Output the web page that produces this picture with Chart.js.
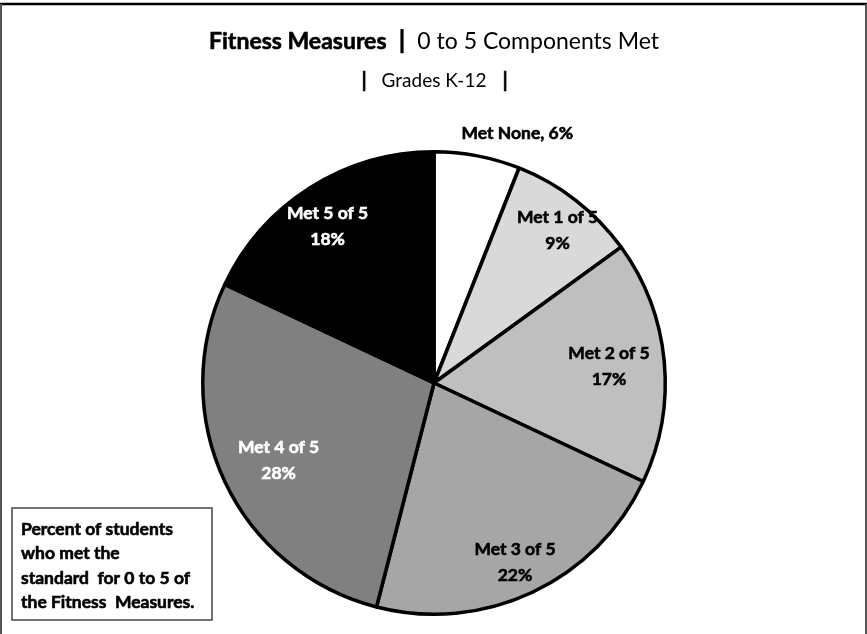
<!DOCTYPE html>
<html>
<head>
<meta charset="utf-8">
<script src="https://cdn.jsdelivr.net/npm/chart.js@4.4.1/dist/chart.umd.min.js"></script>
<style>
  html, body { margin: 0; padding: 0; background: #fff; }
  #wrap { width: 867px; height: 634px; position: relative; }
</style>
</head>
<body>
<div id="wrap"><canvas id="fitnessPie" width="867" height="634"></canvas></div>
<script>
const categories = ["Met None", "Met 1 of 5", "Met 2 of 5", "Met 3 of 5", "Met 4 of 5", "Met 5 of 5"];
const percentages = [6, 9, 17, 22, 28, 18];
const noteLines = [
  "Percent of students",
  "who met the",
  "standard  for 0 to 5 of",
  "the Fitness  Measures."
];

const sliceColors = ["#ffffff", "#d9d9d9", "#bfbfbf", "#a6a6a6", "#808080", "#000000"];
const labelColors = ["#000", "#000", "#000", "#000", "#fff", "#fff"];
// radial position of each label (fraction of radius) plus a small angle nudge
const labelRadius = [1.14, 0.85, 0.76, 0.85, 0.75, 0.82];
const labelTurn = [0.133, 0.02, 0, 0.015, -0.02, -0.03];

const FONT = "Lato, 'Open Sans', sans-serif";

// bold text with a hairline stroke so it reads a little heavier
function heavyText(ctx, text, x, y, color) {
  ctx.fillStyle = color;
  ctx.strokeStyle = color;
  ctx.lineWidth = 0.6;
  ctx.fillText(text, x, y);
  ctx.strokeText(text, x, y);
}

const frameAndText = {
  id: "frameAndText",
  afterDraw(chart) {
    const ctx = chart.ctx;
    ctx.save();

    // outer frame
    ctx.strokeStyle = "#000";
    ctx.lineWidth = 2.5;
    ctx.beginPath();
    ctx.moveTo(0, 4);
    ctx.lineTo(867, 4);
    ctx.stroke();
    ctx.strokeStyle = "#555";
    ctx.lineWidth = 2;
    ctx.beginPath();
    ctx.moveTo(1, 4);
    ctx.lineTo(1, 634);
    ctx.moveTo(866, 4);
    ctx.lineTo(866, 634);
    ctx.stroke();

    // title with mixed weights
    const parts = [
      { text: "Fitness Measures", font: "bold 23px " + FONT, heavy: true },
      { text: "  |  ", font: "bold 25px " + FONT, heavy: true },
      { text: "0 to 5 Components Met", font: "23px " + FONT, heavy: false }
    ];
    let total = 0;
    parts.forEach((p) => {
      ctx.font = p.font;
      p.w = ctx.measureText(p.text).width;
      total += p.w;
    });
    let x = 434 - total / 2;
    ctx.textBaseline = "alphabetic";
    ctx.textAlign = "left";
    parts.forEach((p) => {
      ctx.font = p.font;
      if (p.heavy) {
        heavyText(ctx, p.text, x, 49, "#000");
      } else {
        ctx.fillStyle = "#000";
        ctx.fillText(p.text, x, 49);
      }
      x += p.w;
    });

    ctx.textAlign = "center";
    ctx.fillStyle = "#000";
    ctx.font = "19px " + FONT;
    ctx.fillText("Grades K-12", 434, 87);
    ctx.font = "bold 20px " + FONT;
    heavyText(ctx, "|", 364, 87, "#000");
    heavyText(ctx, "|", 505, 87, "#000");

    // note box
    ctx.fillStyle = "#fff";
    ctx.fillRect(12, 508, 200, 112);
    ctx.strokeStyle = "#444";
    ctx.lineWidth = 1.5;
    ctx.strokeRect(12, 508, 200, 112);
    ctx.textAlign = "left";
    ctx.textBaseline = "middle";
    ctx.font = "bold 17.5px " + FONT;
    noteLines.forEach((line, i) => {
      heavyText(ctx, line, 21, 529 + i * 24.6, "#000");
    });

    ctx.restore();
  }
};

const sliceLabels = {
  id: "sliceLabels",
  afterDatasetsDraw(chart) {
    const ctx = chart.ctx;
    const meta = chart.getDatasetMeta(0);
    ctx.save();
    ctx.font = "bold 17.5px " + FONT;
    ctx.textAlign = "center";
    ctx.textBaseline = "middle";
    meta.data.forEach((arc, i) => {
      const p = arc.getProps(["x", "y", "startAngle", "endAngle", "outerRadius"], true);
      const mid = (p.startAngle + p.endAngle) / 2 + labelTurn[i];
      const r = p.outerRadius * labelRadius[i];
      const lx = p.x + Math.cos(mid) * r;
      const ly = p.y + Math.sin(mid) * r;
      const value = percentages[i] + "%";
      if (i === 0) {
        heavyText(ctx, categories[i] + ", " + value, lx, ly, labelColors[i]);
      } else {
        heavyText(ctx, categories[i], lx, ly - 13, labelColors[i]);
        heavyText(ctx, value, lx, ly + 13, labelColors[i]);
      }
    });
    ctx.restore();
  }
};

new Chart(document.getElementById("fitnessPie"), {
  type: "pie",
  data: {
    labels: categories,
    datasets: [{
      data: percentages,
      backgroundColor: sliceColors,
      borderColor: "#000",
      borderWidth: 3.5,
      hoverOffset: 0
    }]
  },
  options: {
    responsive: false,
    animation: false,
    events: [],
    layout: {
      padding: { top: 150, bottom: 18, left: 201, right: 200 }
    },
    plugins: {
      legend: { display: false },
      tooltip: { enabled: false },
      title: { display: false }
    }
  },
  plugins: [sliceLabels, frameAndText]
});
</script>
</body>
</html>
